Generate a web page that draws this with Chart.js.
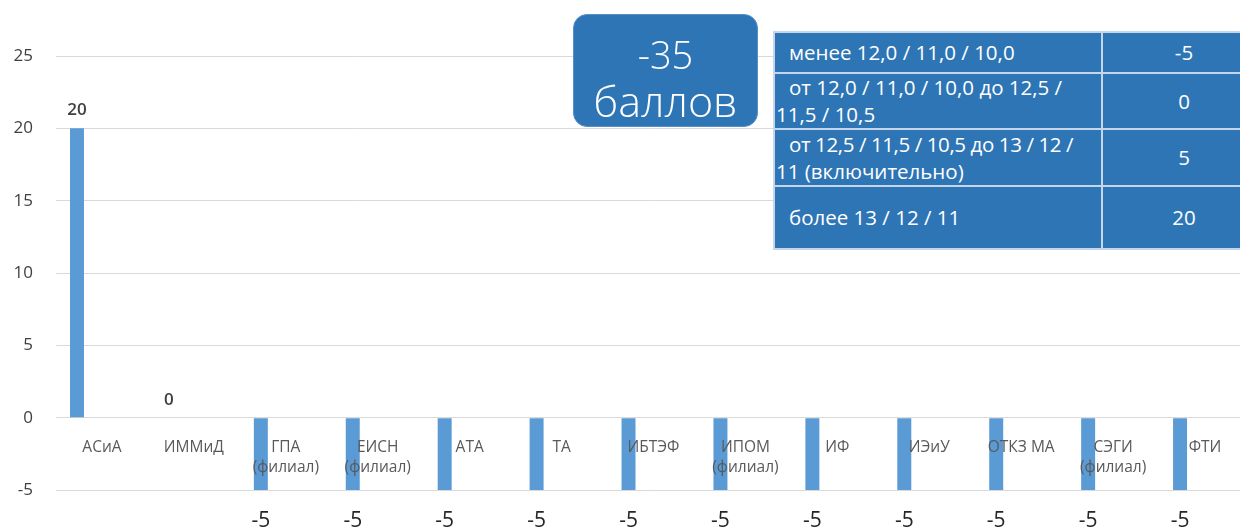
<!DOCTYPE html>
<html lang="ru">
<head>
<meta charset="UTF-8">
<title>Баллы по институтам</title>
<script src="https://cdn.jsdelivr.net/npm/chart.js@4.4.1/dist/chart.umd.min.js"></script>
<style>
    body {
        margin: 0;
        background: #ffffff;
        overflow: hidden;
        width: 1240px;
        height: 529px;
        position: relative;
        font-family: 'Open Sans', sans-serif;
    }
    .chart-box {
        position: absolute;
        left: 0;
        top: 0;
        width: 1252px;
        height: 529px;
    }
    .total {
        position: absolute;
        left: 573px;
        top: 14px;
        width: 185px;
        height: 113px;
        box-sizing: border-box;
        background: #2e75b6;
        border: 1px solid #5b8fc6;
        border-radius: 14px;
        color: #fff;
        text-align: center;
        padding-top: 17px;
    }
    .total .num { font-size: 38px; line-height: 44px; font-weight: 300; }
    .total .word { font-size: 43px; line-height: 50px; font-weight: 300; }
    table.scale {
        position: absolute;
        left: 773px;
        top: 31px;
        width: 492px;
        table-layout: fixed;
        border-collapse: collapse;
        background: #2e75b6;
        color: #fff;
        font-family: 'Open Sans', sans-serif;
        font-size: 20.5px;
    }
    table.scale td {
        border: 2px solid #c5d5ea;
        padding: 0 1px;
        line-height: 27px;
        white-space: nowrap;
        overflow: hidden;
    }
    table.scale td.val { text-align: center; }
    .ind { padding-left: 13px; display: inline-block; }
    .tight { letter-spacing: -0.4px; }
</style>
</head>
<body>
<div class="chart-box">
    <canvas id="scoreChart"></canvas>
</div>
<div class="total"><div class="num">-35</div><div class="word">баллов</div></div>
<table class="scale">
    <colgroup><col style="width:328px"><col style="width:164px"></colgroup>
    <tr style="height:41px"><td class="txt"><span class="ind">менее 12,0 / 11,0 / 10,0</span></td><td class="val">-5</td></tr>
    <tr style="height:56px"><td class="txt"><span class="ind">от 12,0 / 11,0 / 10,0 до 12,5 /</span><br>11,5 / 10,5</td><td class="val">0</td></tr>
    <tr style="height:57px"><td class="txt"><span class="ind tight">от 12,5 / 11,5 / 10,5 до 13 / 12 /</span><br>11 (включительно)</td><td class="val">5</td></tr>
    <tr style="height:63px"><td class="txt"><span class="ind">более 13 / 12 / 11</span></td><td class="val">20</td></tr>
</table>

<script>
    // categories and scores
    const institutes = [
        'АСиА', 'ИММиД', ['ГПА', '(филиал)'], ['ЕИСН', '(филиал)'], 'АТА', 'ТА', 'ИБТЭФ',
        ['ИПОМ', '(филиал)'], 'ИФ', 'ИЭиУ', 'ОТКЗ МА', ['СЭГИ', '(филиал)'], 'ФТИ'
    ];
    const scores = [20, 0, -5, -5, -5, -5, -5, -5, -5, -5, -5, -5, -5];
    // empty series that only keep the slots to the right of the bar (as in the source chart)
    const emptySeries = [null, null, null, null, null, null, null, null, null, null, null, null, null];
    const yTicks = [-5, 0, 5, 10, 15, 20, 25];

    // value labels above / below the bars
    const valueLabels = {
        id: 'valueLabels',
        afterDatasetsDraw(chart) {
            const ctx = chart.ctx;
            const meta = chart.getDatasetMeta(0);
            const y = chart.scales.y;
            ctx.save();
            ctx.textAlign = 'center';
            ctx.textBaseline = 'middle';
            meta.data.forEach((bar, i) => {
                const v = scores[i];
                if (v >= 0) {
                    ctx.font = '600 17px "Open Sans", sans-serif';
                    ctx.fillStyle = '#404040';
                    ctx.fillText(String(v), bar.x, y.getPixelForValue(v) - 18);
                } else {
                    ctx.font = '21px "Open Sans", sans-serif';
                    ctx.fillStyle = '#262626';
                    ctx.fillText(String(v), bar.x, y.getPixelForValue(v) + 31);
                }
            });
            ctx.restore();
        }
    };

    const barStyle = { backgroundColor: '#5b9bd5', categoryPercentage: 0.815, barPercentage: 0.56 };

    new Chart(document.getElementById('scoreChart'), {
        type: 'bar',
        data: {
            labels: institutes,
            datasets: [
                Object.assign({ label: 'Баллы', data: scores }, barStyle),
                Object.assign({ label: '', data: emptySeries }, barStyle),
                Object.assign({ label: '', data: emptySeries }, barStyle)
            ]
        },
        options: {
            responsive: true,
            maintainAspectRatio: false,
            animation: false,
            layout: { padding: { top: 56, bottom: 39, left: 0, right: 1 } },
            plugins: { legend: { display: false }, tooltip: { enabled: false } },
            scales: {
                x: {
                    position: { y: 0 },
                    grid: { display: false, drawTicks: false },
                    border: { display: false },
                    ticks: {
                        z: 1,
                        color: '#595959',
                        font: { size: 15.5, family: '"Open Sans", sans-serif', lineHeight: 1.3 },
                        padding: 20,
                        maxRotation: 0,
                        autoSkip: false
                    }
                },
                y: {
                    min: -5,
                    max: 25,
                    afterFit: s => { s.width = 56; },
                    afterBuildTicks: s => { s.ticks = yTicks.map(v => ({ value: v })); },
                    grid: { color: '#d9d9d9', drawTicks: false },
                    border: { display: false },
                    ticks: {
                        color: '#404040',
                        font: { size: 17, family: '"Open Sans", sans-serif' },
                        padding: 23
                    }
                }
            }
        },
        plugins: [valueLabels]
    });
</script>
</body>
</html>
